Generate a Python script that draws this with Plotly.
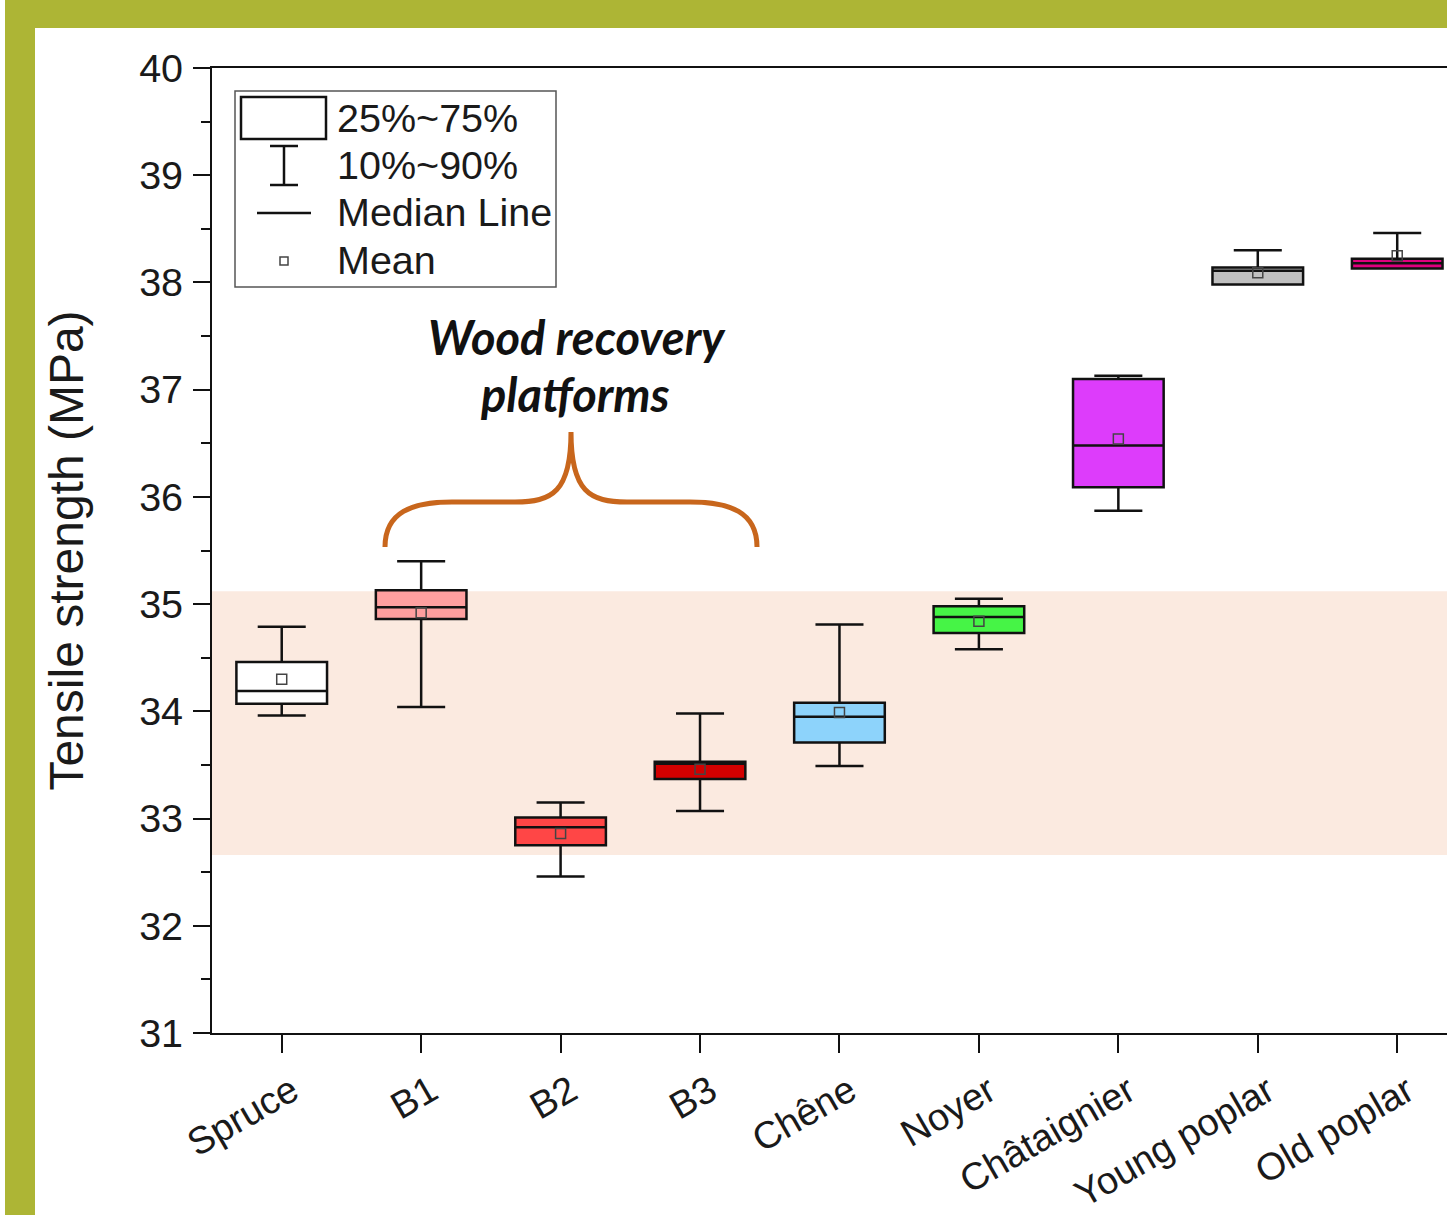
import plotly.graph_objects as go

# ---------------- data ----------------
categories = ["Spruce", "B1", "B2", "B3", "Chêne", "Noyer", "Châtaignier", "Young poplar", "Old poplar"]
p10 = [33.96, 34.04, 32.46, 33.07, 33.49, 34.58, 35.87, 37.98, 38.13]
q1 = [34.07, 34.86, 32.75, 33.37, 33.71, 34.73, 36.09, 37.98, 38.13]
median = [34.19, 34.97, 32.92, 33.51, 33.95, 34.88, 36.48, 38.11, 38.18]
q3 = [34.46, 35.13, 33.01, 33.53, 34.08, 34.98, 37.10, 38.14, 38.22]
p90 = [34.79, 35.40, 33.15, 33.98, 34.81, 35.05, 37.13, 38.30, 38.46]
means = [34.30, 34.92, 32.86, 33.46, 33.99, 34.84, 36.54, 38.09, 38.25]
fill_colors = ["#ffffff", "#ff9f9f", "#ff4646", "#d20000", "#8dd3fb",
               "#46f446", "#dd3cfb", "#c0c0c0", "#e0007e"]
band = [32.66, 35.12]
y_ticks = list(range(31, 41))
legend_labels = ["25%~75%", "10%~90%", "Median Line", "Mean"]

# ---------------- geometry ----------------
W, H = 1447, 1215
L, R, T, B = 212, 1447, 68, 1033
x_range = [0.5, 9.357]
y_range = [31, 40]

def px(x):
    return (x - L) / (R - L)

def py(y):
    return (B - y) / (B - T)

def dx(x):
    return x_range[0] + (x - L) / (R - L) * (x_range[1] - x_range[0])

def dy(y):
    return y_range[1] - (y - T) / (B - T) * (y_range[1] - y_range[0])

FONT = "Liberation Sans, Arial, sans-serif"
GREEN = "#adb535"
FS = 39.5

fig = go.Figure()
xs = list(range(1, len(categories) + 1))

for i, cat in enumerate(categories):
    fig.add_trace(go.Box(
        x=[xs[i]], q1=[q1[i]], median=[median[i]], q3=[q3[i]],
        lowerfence=[p10[i]], upperfence=[p90[i]],
        fillcolor=fill_colors[i], line=dict(color="#111111", width=2.5),
        width=0.65, whiskerwidth=0.53, boxpoints=False, name=cat,
        showlegend=False, hoverinfo="skip",
    ))

fig.add_trace(go.Scatter(
    x=xs, y=means, mode="markers",
    marker=dict(symbol="square-open", size=10, color="#444444", line=dict(width=1.5)),
    showlegend=False, hoverinfo="skip",
))

shapes = []
# white panel over green frame
shapes.append(dict(type="rect", xref="paper", yref="paper",
                   x0=px(35), x1=px(1460), y0=py(1240), y1=py(28),
                   fillcolor="white", line=dict(width=0), layer="below"))
shapes.append(dict(type="rect", xref="paper", yref="paper",
                   x0=px(-10), x1=px(5), y0=py(1240), y1=py(-10),
                   fillcolor="white", line=dict(width=0), layer="below"))
# peach band
shapes.append(dict(type="rect", xref="paper", yref="y",
                   x0=0, x1=1, y0=band[0], y1=band[1],
                   fillcolor="#fbeae0", line=dict(width=0), layer="below"))

# legend frame and glyphs
shapes.append(dict(type="rect", xref="paper", yref="paper",
                   x0=px(235), x1=px(556), y0=py(287), y1=py(91),
                   fillcolor="white", line=dict(color="#555555", width=1.5)))
shapes.append(dict(type="rect", xref="paper", yref="paper",
                   x0=px(241), x1=px(326), y0=py(139), y1=py(97),
                   fillcolor="white", line=dict(color="#111111", width=2.5)))
shapes.append(dict(type="line", xref="paper", yref="paper",
                   x0=px(284), x1=px(284), y0=py(146), y1=py(185),
                   line=dict(color="#111111", width=2.5)))
for yy in (146, 185):
    shapes.append(dict(type="line", xref="paper", yref="paper",
                       x0=px(270), x1=px(298), y0=py(yy), y1=py(yy),
                       line=dict(color="#111111", width=2.5)))
shapes.append(dict(type="line", xref="paper", yref="paper",
                   x0=px(257), x1=px(311), y0=py(213), y1=py(213),
                   line=dict(color="#111111", width=2.5)))
shapes.append(dict(type="rect", xref="paper", yref="paper",
                   x0=px(280), x1=px(288), y0=py(265), y1=py(257),
                   fillcolor="white", line=dict(color="#444444", width=1.5)))

# orange brace (decoration) in data coordinates
def P(x, y):
    return f"{dx(x):.4f},{dy(y):.4f}"

brace = (f"M {P(385,547)} C {P(385,512)} {P(412,502)} {P(452,502)} "
         f"L {P(515,502)} C {P(552,502)} {P(571,492)} {P(571,432)} "
         f"C {P(571,492)} {P(590,502)} {P(627,502)} "
         f"L {P(690,502)} C {P(730,502)} {P(757,512)} {P(757,547)}")
shapes.append(dict(type="path", xref="x", yref="y", path=brace,
                   line=dict(color="#c8661c", width=5)))

annotations = []
for lab, yy in zip(legend_labels, (118, 165, 212, 260)):
    annotations.append(dict(xref="paper", yref="paper", x=px(335), y=py(yy),
                            text=lab, showarrow=False, xanchor="left", yanchor="middle",
                            font=dict(family=FONT, size=FS, color="#1a1a1a")))
annotations.append(dict(xref="paper", yref="paper", x=px(577), y=py(337),
                        text="<b><i>Wood recovery</i></b>", showarrow=False,
                        xanchor="center", yanchor="middle",
                        font=dict(family="Lato, Open Sans, sans-serif", size=47, color="#111111")))
annotations.append(dict(xref="paper", yref="paper", x=px(575), y=py(394),
                        text="<b><i>platforms</i></b>", showarrow=False,
                        xanchor="center", yanchor="middle",
                        font=dict(family="Lato, Open Sans, sans-serif", size=47, color="#111111")))

fig.update_layout(
    width=W, height=H,
    margin=dict(l=L, r=W - R, t=T, b=H - B, pad=0, autoexpand=False),
    paper_bgcolor=GREEN, plot_bgcolor="rgba(0,0,0,0)",
    boxmode="overlay",
    shapes=shapes, annotations=annotations,
    showlegend=False,
    font=dict(family=FONT, color="#1a1a1a"),
)
fig.update_xaxes(
    range=x_range, tickvals=xs, ticktext=categories, tickangle=-30,
    automargin=False,
    showgrid=False, zeroline=False, showline=True, linecolor="#111111", linewidth=2,
    mirror=True, ticks="outside", ticklen=18, tickwidth=2, tickcolor="#111111",
    ticklabelstandoff=1, ticklabelshift=10,
    tickfont=dict(family=FONT, size=38, color="#1a1a1a"),
)
fig.update_yaxes(
    range=y_range, tickvals=y_ticks, showgrid=False, zeroline=False,
    automargin=False,
    showline=True, linecolor="#111111", linewidth=2, mirror=False,
    ticks="outside", ticklen=17, tickwidth=2, tickcolor="#111111",
    ticklabelstandoff=2,
    minor=dict(dtick=0.5, ticks="outside", ticklen=9, tickwidth=2, tickcolor="#111111", showgrid=False),
    tickfont=dict(family=FONT, size=FS, color="#1a1a1a"),
    title=dict(text="Tensile strength (MPa)", font=dict(family=FONT, size=48, color="#1a1a1a"), standoff=40),
)

fig.write_html("out.html", config={"displayModeBar": False},
               post_script="document.body.style.margin='0';document.body.style.overflow='hidden';")
